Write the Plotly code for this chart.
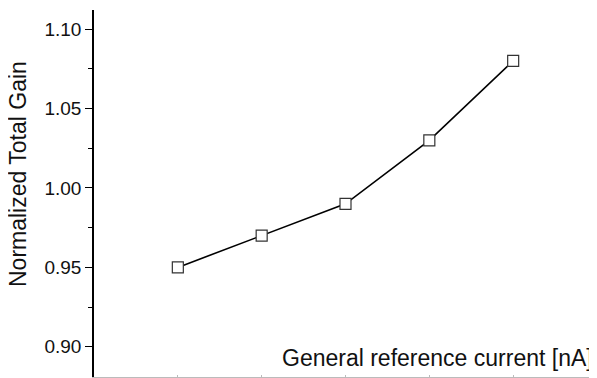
import plotly.graph_objects as go

x_vals = [1, 2, 3, 4, 5]
gain = [0.95, 0.97, 0.99, 1.03, 1.08]
y_ticks = [0.90, 0.95, 1.00, 1.05, 1.10]
y_ticklabels = ["0.90", "0.95", "1.00", "1.05", "1.10"]

W, H = 589, 370
L, R, T, B = 86, 0, 2, 1
PW, PH = W - L - R, H - T - B

fig = go.Figure()
fig.add_trace(go.Scatter(
    x=x_vals, y=gain, mode="lines+markers",
    line=dict(color="black", width=1.6),
    marker=dict(symbol="square", size=11, color="white",
                line=dict(color="#333333", width=1.2)),
    showlegend=False, cliponaxis=False,
))

fig.update_layout(
    width=W, height=H,
    margin=dict(l=L, r=R, t=T, b=B),
    paper_bgcolor="white", plot_bgcolor="white",
    font=dict(family="Liberation Sans, Arial, sans-serif", size=19, color="#111111"),
    xaxis=dict(range=[0, 6], showgrid=False, zeroline=False,
               showline=True, linecolor="#bbbbbb", linewidth=1,
               tickvals=x_vals, showticklabels=False,
               ticks="inside", ticklen=2, tickcolor="#bbbbbb"),
    yaxis=dict(range=[0.881, 1.112], showgrid=False, zeroline=False,
               showline=True, linecolor="black", linewidth=1.5,
               tickvals=y_ticks, ticktext=y_ticklabels,
               ticks="outside", ticklen=7, tickwidth=1.2, tickcolor="black",
               minor=dict(dtick=0.025, tick0=0.875, ticks="outside", ticklen=4,
                          tickwidth=1.2, tickcolor="black", showgrid=False),
               tickfont=dict(size=19)),
    annotations=[
        dict(text="Normalized Total Gain", xref="paper", yref="paper",
             x=(10 - L) / PW, xanchor="center",
             y=(H - B - 166) / PH, yanchor="middle",
             textangle=-90, showarrow=False, font=dict(size=23)),
        dict(text="General reference current [nA]", xref="paper", yref="paper",
             x=1, xanchor="right", xshift=-2,
             y=(H - B - 350) / PH, yanchor="middle",
             showarrow=False, font=dict(size=23)),
    ],
)

fig.write_html("out.html")
